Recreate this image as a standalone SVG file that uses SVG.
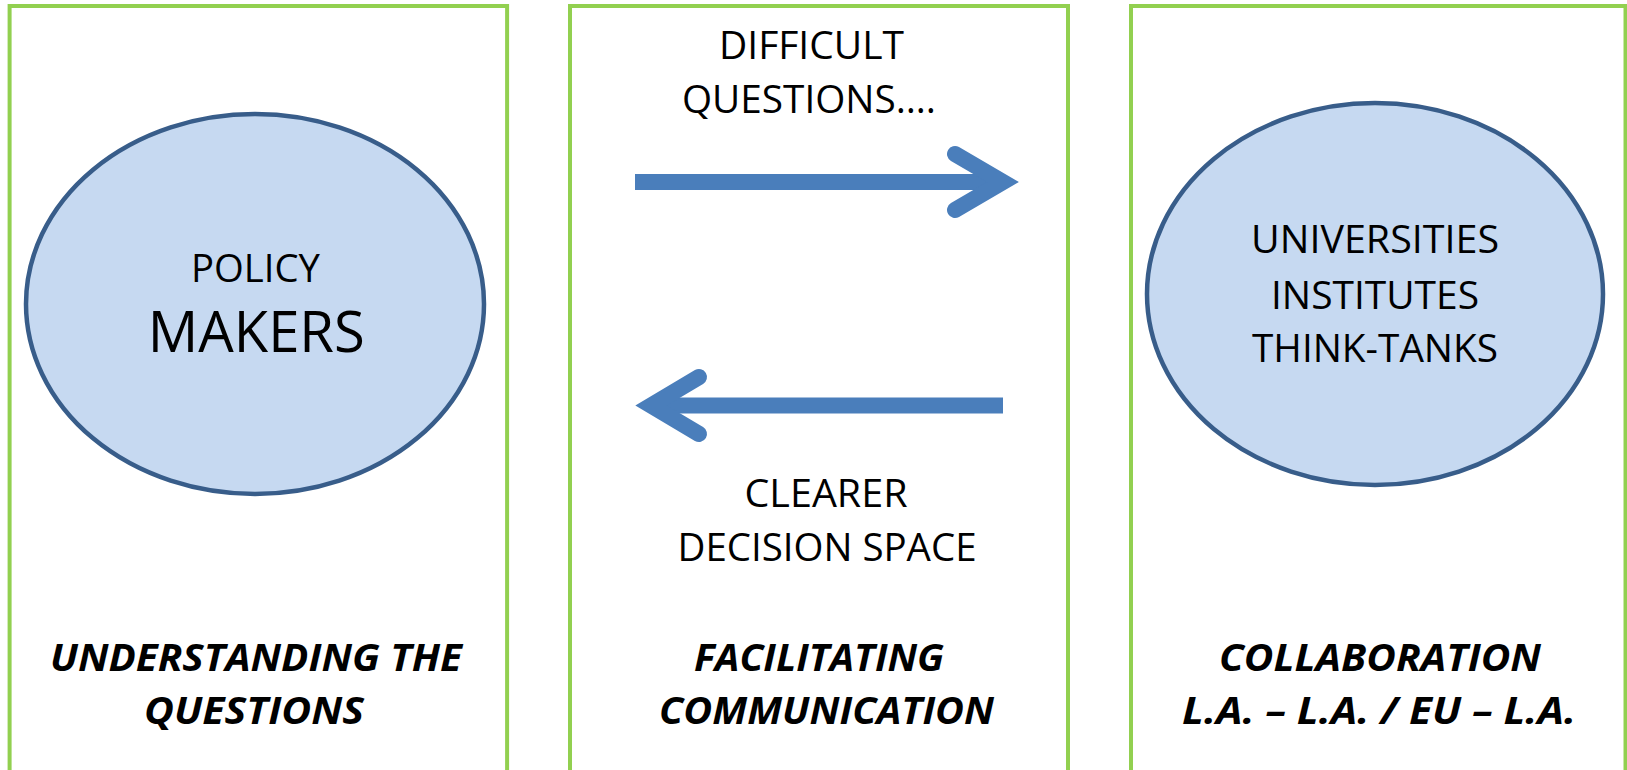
<svg xmlns="http://www.w3.org/2000/svg" width="1627" height="770" viewBox="0 0 1627 770">
<style>
.panel{fill:#ffffff;stroke:#92D050;stroke-width:4}
.node{fill:#C6D9F1;stroke:#385D8A;stroke-width:4.5}
.t{font-family:"Open Sans","Liberation Sans",sans-serif;font-size:39px;fill:#000;text-anchor:middle}
.big{font-size:56px}
.bi{font-family:"Open Sans","Liberation Sans",sans-serif;font-size:38px;font-weight:bold;font-style:italic;fill:#000;text-anchor:middle}
.shaft{stroke:#4A7EBB;stroke-width:16;fill:none;stroke-linecap:butt}
.head{stroke:#4A7EBB;stroke-width:16;fill:none;stroke-linecap:round;stroke-linejoin:miter;stroke-miterlimit:10}
</style>
<rect width="1627" height="770" fill="#ffffff"/>
<g id="panel-left">
<rect class="panel" x="9.6" y="6" width="497.5" height="800"/>
<text class="bi" x="256" y="671" textLength="412" lengthAdjust="spacingAndGlyphs">UNDERSTANDING THE</text>
<text class="bi" x="254" y="724" textLength="220" lengthAdjust="spacingAndGlyphs">QUESTIONS</text>
</g>
<g id="panel-middle">
<rect class="panel" x="570" y="6" width="498" height="800"/>
<text class="bi" x="819" y="671" textLength="250" lengthAdjust="spacingAndGlyphs">FACILITATING</text>
<text class="bi" x="826.5" y="724" textLength="335" lengthAdjust="spacingAndGlyphs">COMMUNICATION</text>
</g>
<g id="panel-right">
<rect class="panel" x="1131" y="6" width="494.5" height="800"/>
<text class="bi" x="1380" y="671" textLength="322" lengthAdjust="spacingAndGlyphs">COLLABORATION</text>
<text class="bi" x="1379" y="724" textLength="394" lengthAdjust="spacingAndGlyphs">L.A. – L.A. / EU – L.A.</text>
</g>
<g id="node-policy-makers">
<ellipse class="node" cx="255" cy="304" rx="229" ry="190"/>
<text class="t" x="255.5" y="282" textLength="129" lengthAdjust="spacingAndGlyphs">POLICY</text>
<text class="t big" x="256.3" y="352" textLength="217" lengthAdjust="spacingAndGlyphs">MAKERS</text>
</g>
<g id="node-universities">
<ellipse class="node" cx="1375" cy="294" rx="228" ry="191"/>
<text class="t" x="1375" y="253" textLength="248" lengthAdjust="spacingAndGlyphs">UNIVERSITIES</text>
<text class="t" x="1375" y="309" textLength="208" lengthAdjust="spacingAndGlyphs">INSTITUTES</text>
<text class="t" x="1375" y="362" textLength="246" lengthAdjust="spacingAndGlyphs">THINK-TANKS</text>
</g>
<g id="connectors">
<g id="arrow-questions">
<line class="shaft" x1="635" y1="182" x2="995" y2="182"/>
<polyline class="head" points="955,154 1003,182 955,210"/>
<text class="t" x="811.5" y="59" textLength="185" lengthAdjust="spacingAndGlyphs">DIFFICULT</text>
<text class="t" x="809" y="113" textLength="254" lengthAdjust="spacingAndGlyphs">QUESTIONS….</text>
</g>
<g id="arrow-decision">
<line class="shaft" x1="1003" y1="405.5" x2="659" y2="405.5"/>
<polyline class="head" points="699,377 651,405.5 699,434"/>
<text class="t" x="826" y="507" textLength="163" lengthAdjust="spacingAndGlyphs">CLEARER</text>
<text class="t" x="827" y="561" textLength="299" lengthAdjust="spacingAndGlyphs">DECISION SPACE</text>
</g>
</g>
</svg>
